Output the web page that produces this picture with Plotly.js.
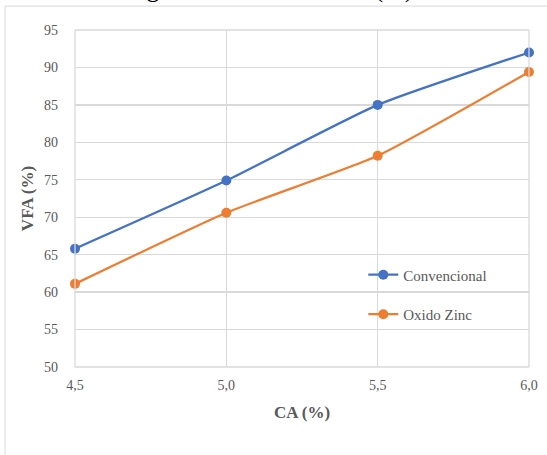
<!DOCTYPE html>
<html>
<head>
<meta charset="utf-8">
<script src="https://cdn.plot.ly/plotly-3.0.1.min.js"></script>
<style>html,body{margin:0;padding:0;background:#fff;}#chart{width:547px;height:455px;}</style>
</head>
<body>
<div id="chart"></div>
<script>
const caValues = [4.5, 5.0, 5.5, 6.0];
const convencional = [65.8, 74.9, 85.0, 92.0];
const oxidoZinc = [61.1, 70.6, 78.2, 89.4];
const seriesNames = ['Convencional', 'Oxido Zinc'];
const xTicks = [4.5, 5.0, 5.5, 6.0];
const xTickLabels = ['4,5', '5,0', '5,5', '6,0'];
const yTicks = [50, 55, 60, 65, 70, 75, 80, 85, 90, 95];

const font = 'Liberation Serif, Times New Roman, serif';
const traces = [
  {x: caValues, y: convencional, name: seriesNames[0], legendgroup: 'a', mode: 'lines+markers', cliponaxis: false,
   line: {color: '#4472C4', width: 2.25, shape: 'spline', smoothing: 0.5},
   marker: {color: '#4472C4', size: 10}},
  {x: caValues, y: oxidoZinc, name: seriesNames[1], legendgroup: 'b', mode: 'lines+markers', cliponaxis: false,
   line: {color: '#ED7D31', width: 2.25, shape: 'spline', smoothing: 0.5},
   marker: {color: '#ED7D31', size: 10}}
];
const layout = {
  width: 547, height: 455,
  margin: {l: 75, r: 18, t: 30, b: 88},
  paper_bgcolor: '#fff', plot_bgcolor: '#fff',
  font: {family: font, color: '#595959', size: 14},
  showlegend: true,
  legend: {x: 0.635, y: 0.322, xanchor: 'left', yanchor: 'top', bgcolor: 'rgba(0,0,0,0)',
           font: {family: font, size: 15, color: '#595959'}, tracegroupgap: 17,
           itemwidth: 30},
  xaxis: {range: [4.5, 6.0], tickvals: xTicks, ticktext: xTickLabels,
          showgrid: true, gridcolor: '#d9d9d9', gridwidth: 1.3, zeroline: false,
          showline: false, ticks: '', ticklen: 0, ticklabelstandoff: 8,
          tickfont: {family: font, size: 14, color: '#595959'},
          title: {text: '<b>CA (%)</b>', font: {family: font, size: 17, color: '#595959'}, standoff: 14}},
  yaxis: {range: [50, 95], tickvals: yTicks,
          showgrid: true, gridcolor: '#d9d9d9', gridwidth: 1.3, zeroline: false,
          showline: false, ticks: '', ticklen: 0, ticklabelstandoff: 16,
          tickfont: {family: font, size: 14, color: '#595959'},
          title: {text: '<b>VFA (%)</b>', font: {family: font, size: 17, color: '#595959'}, standoff: 6}},
  shapes: [
    {type: 'line', xref: 'paper', yref: 'paper', x0: 0, x1: 1, y0: 1, y1: 1, line: {color: '#d9d9d9', width: 1.3}},
    {type: 'line', xref: 'paper', yref: 'paper', x0: 0, x1: 0, y0: 0, y1: 1, line: {color: '#d9d9d9', width: 1.3}},
    {type: 'line', xref: 'paper', yref: 'paper', x0: 1, x1: 1, y0: 0, y1: 1, line: {color: '#d9d9d9', width: 1.3}},
    {type: 'line', xref: 'paper', yref: 'paper', x0: 0, x1: 1, y0: 0, y1: 0, line: {color: '#d9d9d9', width: 1.3}},
    {type: 'rect', xref: 'paper', yref: 'paper', x0: -0.154, x1: 1.2, y0: -0.5, y1: 1.071,
     line: {color: '#d9d9d9', width: 1}, fillcolor: 'rgba(0,0,0,0)', layer: 'below'}
  ],
  annotations: [
    {text: 'Diagrama de VFA vs CA (%)', xref: 'paper', yref: 'paper', x: 0.41, y: 1.074,
     xanchor: 'center', yanchor: 'bottom', showarrow: false,
     font: {family: font, size: 26, color: '#000'}}
  ]
};
Plotly.newPlot('chart', traces, layout, {displayModeBar: false, staticPlot: true});
</script>
</body>
</html>
